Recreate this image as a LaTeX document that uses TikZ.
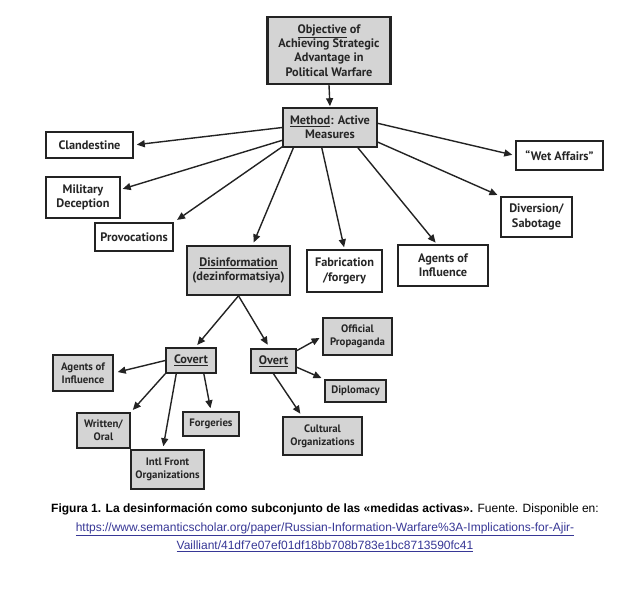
\documentclass[tikz,border=0pt]{standalone}
\usepackage{fontspec}
\setmainfont{Liberation Sans}
\newfontfamily\boxfont{PT Sans}
\usepackage{tikz}
\usetikzlibrary{arrows.meta}
\definecolor{boxgray}{RGB}{212,212,212}
\definecolor{boxline}{RGB}{35,35,35}
\definecolor{urlblue}{RGB}{55,55,150}
\tikzset{
  grayflow/.style={rectangle,draw=boxline,line width=1.6pt,fill=boxgray,align=center,inner sep=1pt,text=black!85,font=\boxfont\bfseries\fontsize{12.3}{14.3}\selectfont},
  whiteflow/.style={grayflow,fill=white},
  smallflow/.style={grayflow,font=\boxfont\bfseries\fontsize{10.8}{13}\selectfont},
  edge/.style={-{Triangle[length=8pt,width=7pt]},line width=1.4pt,draw=boxline,shorten >=3pt}
}

\begin{document}
\begin{tikzpicture}[x=1pt,y=-1pt]
  \useasboundingbox[fill=white] (0,0) rectangle (636,590);

  % top of the tree
  \node[grayflow,line width=2.2pt,minimum width=123pt,minimum height=67pt] (goal) at (329,50.5)
    {\underline{Objective} of\\Achieving Strategic\\Advantage in\\Political Warfare};
  \node[grayflow,minimum width=94pt,minimum height=39pt] (method) at (330,127.5)
    {\underline{Method}: Active\\Measures};

  % kinds of active measures
  \node[whiteflow,minimum width=87pt,minimum height=26pt] (clandest) at (89.5,145) {Clandestine};
  \node[whiteflow,minimum width=74pt,minimum height=41pt] (milidec) at (83,197.5) {Military\\Deception};
  \node[whiteflow,minimum width=78pt,minimum height=28pt] (provoc) at (134,237) {Provocations};
  \node[grayflow,minimum width=103pt,minimum height=49pt] (disinfo) at (238.5,270.5)
    {\underline{Disinformation}\\(dezinformatsiya)};
  \node[whiteflow,minimum width=75pt,minimum height=42pt] (fabric) at (344.5,271) {Fabrication\\/forgery};
  \node[whiteflow,minimum width=90pt,minimum height=41pt] (agents) at (443,265.5) {Agents of\\Influence};
  \node[whiteflow,minimum width=71pt,minimum height=40pt] (divers) at (536.5,217) {Diversion/\\Sabotage};
  \node[whiteflow,minimum width=87pt,minimum height=29pt] (wetaff) at (559.5,155.5) {“Wet Affairs”};

  % covert and overt
  \node[grayflow,minimum width=50pt,minimum height=25pt] (covert) at (191,360.5) {\underline{Covert}};
  \node[grayflow,minimum width=45pt,minimum height=24pt] (overt) at (273.5,361) {\underline{Overt}};

  \node[smallflow,minimum width=60pt,minimum height=36pt] (covagents) at (83,373) {Agents of\\Influence};
  \node[smallflow,minimum width=53pt,minimum height=35pt] (written) at (103.5,430.5) {Written/\\Oral};
  \node[smallflow,minimum width=73pt,minimum height=39pt] (intlfront) at (167.5,469.5) {Intl Front\\Organizations};
  \node[smallflow,minimum width=56pt,minimum height=24pt] (forger) at (211,424) {Forgeries};
  \node[smallflow,minimum width=69pt,minimum height=37pt] (official) at (357.5,336.5) {Official\\Propaganda};
  \node[smallflow,minimum width=61pt,minimum height=22pt] (diplom) at (355.5,391) {Diplomacy};
  \node[smallflow,minimum width=79pt,minimum height=38pt] (cultural) at (322.5,436) {Cultural\\Organizations};

  % caption
  \node[align=center,font=\fontsize{12}{18.6}\selectfont,inner sep=0pt] (caption) at (325,528)
    {\textbf{Figura 1. La desinformación como subconjunto de las «medidas activas».} Fuente. Disponible en:\\
     \textcolor{urlblue}{\underline{https://www.semanticscholar.org/paper/Russian-Information-Warfare\%3A-Implications-for-Ajir-}}\\
     \textcolor{urlblue}{\underline{Vailliant/41df7e07ef01df18bb708b783e1bc8713590fc41}}};

  \draw[edge,shorten >=1pt] (goal.south) -- (method.north);
  \draw[edge] (method.180) -- (clandest.east);
  \draw[edge,shorten >=2pt] (method.195) -- (milidec.12);
  \draw[edge,shorten >=4pt] (method.202) -- (provoc.north east);
  \draw[edge] (method.209) -- (disinfo.61);
  \draw[edge,shorten >=2pt] (method.248) -- (fabric.north);
  \draw[edge,shorten >=2pt] (method.324) -- (agents.106);
  \draw[edge] (method.343) -- (divers.north west);
  \draw[edge] (method.5) -- (wetaff.west);

  \draw[edge] (disinfo.south) -- (covert.72);
  \draw[edge,shorten >=4pt] (disinfo.south) -- (overt.106);

  \draw[edge,shorten >=4pt] (covert.west) -- (covagents.east);
  \draw[edge] (covert.south west) -- (written.north east);
  \draw[edge] (covert.222) -- (intlfront.103);
  \draw[edge] (covert.314) -- (forger.north);

  \draw[edge] (overt.24) -- (official.west);
  \draw[edge] (overt.345) -- (diplom.north west);
  \draw[edge] (overt.south) -- (cultural.136);
\end{tikzpicture}
\end{document}
